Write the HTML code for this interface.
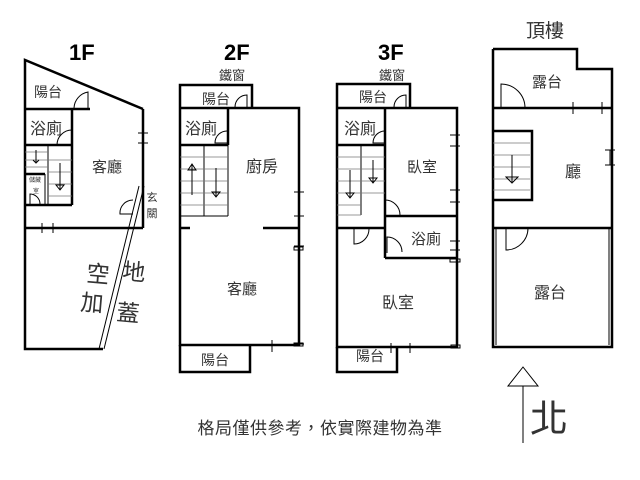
<!DOCTYPE html>
<html><head><meta charset="utf-8"><style>
html,body{margin:0;padding:0;background:#fff;}
svg{display:block;}
text{font-family:"Liberation Sans","Noto Sans CJK TC",sans-serif;fill:#333;}
.w{stroke:#000;stroke-width:2.5;fill:none;}
.t{stroke:#000;stroke-width:1;fill:none;}
.g{stroke:#777;stroke-width:0.8;fill:none;}
.h{font-family:"Liberation Sans",sans-serif;font-weight:bold;fill:#000;font-size:22px;}
</style></head><body>
<svg width="640" height="480" viewBox="0 0 640 480" xmlns="http://www.w3.org/2000/svg">
<rect width="640" height="480" fill="#fff"/>
<text class="h" x="69" y="60">1F</text>
<text class="h" x="224" y="60">2F</text>
<text class="h" x="378" y="60">3F</text>
<text x="545" y="37" font-size="19" text-anchor="middle" fill="#222">頂樓</text>

<!-- 1F -->
<polyline class="w" points="143,109 25,60 25,349 103,349"/>
<line class="w" x1="143" y1="109" x2="143" y2="228"/>
<line class="w" x1="25" y1="228" x2="143" y2="228"/>
<line class="w" x1="25" y1="109" x2="90" y2="109"/>
<line class="t" x1="139" y1="186" x2="99" y2="349"/>
<line class="t" x1="144" y1="186" x2="104" y2="349"/>
<line class="w" x1="72" y1="109" x2="72" y2="205"/>
<line class="w" x1="25" y1="145" x2="72" y2="145"/>
<line class="w" x1="25" y1="205" x2="72" y2="205"/>
<line class="t" x1="48" y1="145" x2="48" y2="205"/>
<line class="w" x1="25" y1="174" x2="45" y2="174"/>
<line class="t" x1="45" y1="174" x2="45" y2="205"/>
<g class="g"><line x1="25" y1="152" x2="48" y2="152"/><line x1="25" y1="160" x2="48" y2="160"/><line x1="25" y1="167" x2="48" y2="167"/>
<line x1="48" y1="160" x2="72" y2="160"/><line x1="48" y1="172" x2="72" y2="172"/><line x1="48" y1="184" x2="72" y2="184"/><line x1="48" y1="196" x2="72" y2="196"/></g>
<path class="t" d="M60,163 V190 M56,185 L60,190 L64,185Z"/>
<path class="t" d="M36,150 V162 M33,160 L36,163 L39,160"/>
<path class="t" d="M88,109 V92 A17,17 0 0,0 74,108"/>
<path class="t" d="M72,145 H57 A15,15 0 0,1 72,130"/>
<path class="t" d="M133,214 H120 A13,13 0 0,1 133,200"/>
<path class="t" d="M30,205 V194 A10,10 0 0,1 40,204"/>
<path class="t" d="M138,133 h10 M138,143 h10 M143,133 v10"/>
<path class="t" d="M42,223 v10 M53,223 v10 M42,228 h11"/>
<text x="48" y="97" font-size="14" text-anchor="middle">陽台</text>
<text x="46" y="134" font-size="16" text-anchor="middle">浴廁</text>
<text x="107" y="172" font-size="15" text-anchor="middle">客廳</text>
<text x="35" y="182" font-size="6" text-anchor="middle">儲藏</text>
<text x="36" y="193" font-size="6" text-anchor="middle">室</text>
<text x="152" y="201" font-size="11" text-anchor="middle">玄</text>
<text x="152" y="217" font-size="11" text-anchor="middle">關</text>
<text x="98" y="282" font-size="23" text-anchor="middle" transform="rotate(5 98 274)">空</text>
<text x="134" y="280" font-size="23" text-anchor="middle" transform="rotate(5 134 272)">地</text>
<text x="92" y="311" font-size="23" text-anchor="middle" transform="rotate(5 92 303)">加</text>
<text x="128" y="321" font-size="23" text-anchor="middle" transform="rotate(5 128 313)">蓋</text>

<!-- 2F -->
<text x="232" y="80" font-size="13" text-anchor="middle">鐵窗</text>
<polyline class="w" points="180,108 180,85 252,85 252,108"/>
<polyline class="w" points="180,108 299,108 299,345 180,345 180,108"/>
<polyline class="w" points="180,345 180,372 250,372 250,345"/>
<line class="w" x1="180" y1="145" x2="228" y2="145"/>
<line class="w" x1="228" y1="108" x2="228" y2="145"/>
<line class="t" x1="228" y1="145" x2="228" y2="216"/>
<line class="t" x1="180" y1="216" x2="228" y2="216"/>
<line class="t" x1="204" y1="145" x2="204" y2="216"/>
<g class="g"><line x1="180" y1="157" x2="228" y2="157"/><line x1="180" y1="169" x2="228" y2="169"/><line x1="180" y1="181" x2="228" y2="181"/><line x1="180" y1="193" x2="228" y2="193"/><line x1="180" y1="205" x2="228" y2="205"/></g>
<path class="t" d="M192,195 V165 M188,170 L192,164 L196,170Z"/>
<path class="t" d="M216,168 V197 M212,192 L216,197 L220,192Z"/>
<line class="w" x1="180" y1="228" x2="190" y2="228"/>
<line class="w" x1="263" y1="228" x2="299" y2="228"/>
<path class="t" d="M247,108 V95 A12,12 0 0,0 235,107"/>
<path class="t" d="M228,143 H215 A12,12 0 0,1 228,131"/>
<path class="t" d="M294,192 h10 M294,216 h10 M294,246 h10 M294,344 h10 M272,340 v12"/>
<rect x="294" y="247" width="9" height="3" class="t"/><rect x="294" y="343" width="9" height="3" class="t"/>
<text x="216" y="104" font-size="14" text-anchor="middle">陽台</text>
<text x="201" y="134" font-size="16" text-anchor="middle">浴廁</text>
<text x="262" y="172" font-size="16" text-anchor="middle">廚房</text>
<text x="242" y="294" font-size="15" text-anchor="middle">客廳</text>
<text x="215" y="365" font-size="14" text-anchor="middle">陽台</text>

<!-- 3F -->
<text x="392" y="80" font-size="13" text-anchor="middle">鐵窗</text>
<polyline class="w" points="337,108 337,84 410,84 410,108"/>
<polyline class="w" points="337,108 457,108 457,347 337,347 337,108"/>
<polyline class="w" points="337,347 337,372 397,372 397,347"/>
<line class="w" x1="337" y1="145" x2="385" y2="145"/>
<line class="w" x1="385" y1="108" x2="385" y2="258"/>
<line class="w" x1="337" y1="228" x2="385" y2="228"/>
<line class="w" x1="385" y1="216" x2="457" y2="216"/>
<line class="w" x1="385" y1="258" x2="457" y2="258"/>
<line class="t" x1="361" y1="145" x2="361" y2="215"/>
<g class="g"><line x1="337" y1="157" x2="385" y2="157"/><line x1="337" y1="169" x2="385" y2="169"/><line x1="337" y1="181" x2="385" y2="181"/><line x1="337" y1="193" x2="385" y2="193"/><line x1="337" y1="205" x2="361" y2="205"/><line x1="337" y1="215" x2="361" y2="215"/></g>
<path class="t" d="M350,170 V198 M346,193 L350,198 L354,193Z"/>
<path class="t" d="M373,160 V183 M369,178 L373,183 L377,178Z"/>
<path class="t" d="M406,108 V95 A12,12 0 0,0 394,107"/>
<path class="t" d="M385,143 H373 A12,12 0 0,1 385,131"/>
<path class="t" d="M385,216 V200 A15,15 0 0,1 400,215"/>
<path class="t" d="M354,228 V244 A15,15 0 0,0 369,229"/>
<path class="t" d="M387,253 V237 A15,15 0 0,1 402,252"/>
<path class="t" d="M450,135 h10 M450,146 h10 M450,190 h10 M450,202 h10 M450,241 h10 M450,250 h10 M410,343 v10 M391,343 v10"/>
<rect x="450" y="259" width="10" height="3" class="t"/><rect x="451" y="345" width="9" height="3" class="t"/>
<text x="373" y="102" font-size="14" text-anchor="middle">陽台</text>
<text x="360" y="134" font-size="16" text-anchor="middle">浴廁</text>
<text x="422" y="172" font-size="15" text-anchor="middle">臥室</text>
<text x="426" y="244" font-size="15" text-anchor="middle">浴廁</text>
<text x="398" y="308" font-size="16" text-anchor="middle">臥室</text>
<text x="370" y="361" font-size="14" text-anchor="middle">陽台</text>

<!-- Roof -->
<polyline class="w" points="493,49 577,49 577,69 612,69 612,347 493,347 493,49"/>
<line class="w" x1="493" y1="108" x2="612" y2="108"/>
<line class="w" x1="493" y1="228" x2="612" y2="228"/>
<polyline class="w" points="493,131 532,131 532,200 493,200"/>
<g class="g"><line x1="493" y1="143" x2="530" y2="143"/><line x1="493" y1="155" x2="530" y2="155"/><line x1="493" y1="167" x2="530" y2="167"/><line x1="493" y1="179" x2="530" y2="179"/><line x1="493" y1="190" x2="530" y2="190"/></g>
<path class="t" d="M512,155 V182 M506,177 L512,183 L518,177Z"/>
<path class="t" d="M501,108 V84 A24,24 0 0,1 525,108"/>
<path class="t" d="M506,228 V250 A22,22 0 0,0 528,228"/>
<path class="t" d="M573,102 v12 M602,102 v12 M605,150 h10 M605,165 h10 M610,150 v15"/>
<line class="t" x1="609" y1="228" x2="609" y2="345"/>
<line class="t" x1="496" y1="228" x2="496" y2="345"/>
<text x="547" y="87" font-size="15" text-anchor="middle">露台</text>
<text x="573" y="177" font-size="16" text-anchor="middle">廳</text>
<text x="550" y="298" font-size="16" text-anchor="middle">露台</text>

<!-- north arrow -->
<polygon points="523,367 508,386 538,386" fill="none" stroke="#000" stroke-width="1"/>
<line x1="523" y1="386" x2="523" y2="443" stroke="#000" stroke-width="1"/>
<text x="549" y="432" font-size="38" text-anchor="middle" fill="#111">北</text>
<text x="320" y="434" font-size="17" text-anchor="middle" fill="#333" letter-spacing="0.5">格局僅供參考，依實際建物為準</text>
</svg>
</body></html>
